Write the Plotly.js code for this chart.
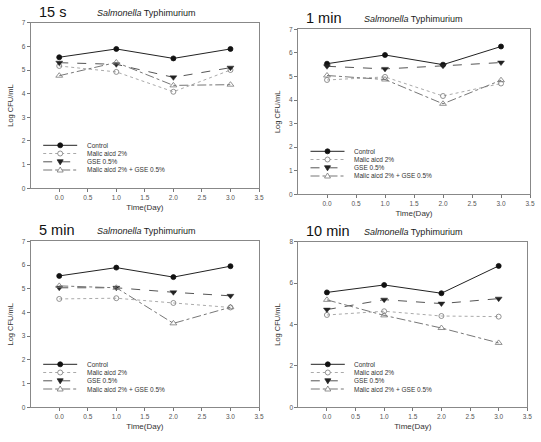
<!DOCTYPE html>
<html>
<head>
<meta charset="utf-8">
<script src="https://cdn.plot.ly/plotly-3.0.1.min.js"></script>
<style>html,body{margin:0;padding:0;background:#fff;}#chart{width:541px;height:442px;}</style>
</head>
<body>
<div id="chart"></div>
<script>
// ---- data ----
const days = [0, 1, 2, 3];
const seriesNames = ["Control", "Malic aicd 2%", "GSE 0.5%", "Malic aicd 2% + GSE 0.5%"];
const panelTitles = ["15 s", "1 min", "5 min", "10 min"];
// 15 s
const control15s = [5.54, 5.89, 5.49, 5.89];
const malic15s   = [5.17, 4.92, 4.08, 5.00];
const gse15s     = [5.31, 5.24, 4.69, 5.10];
const combo15s   = [4.76, 5.32, 4.35, 4.38];
// 1 min
const control1m = [5.54, 5.91, 5.50, 6.27];
const malic1m   = [4.85, 4.98, 4.17, 4.70];
const gse1m     = [5.43, 5.32, 5.45, 5.59];
const combo1m   = [5.04, 4.87, 3.84, 4.84];
// 5 min
const control5m = [5.54, 5.89, 5.49, 5.95];
const malic5m   = [4.57, 4.60, 4.40, 4.21];
const gse5m     = [5.04, 5.04, 4.85, 4.70];
const combo5m   = [5.12, 5.04, 3.54, 4.22];
// 10 min
const control10m = [5.55, 5.91, 5.51, 6.83];
const malic10m   = [4.46, 4.64, 4.41, 4.38];
const gse10m     = [4.72, 5.20, 5.01, 5.25];
const combo10m   = [5.19, 4.44, 3.83, 3.11];
const yMax = [7, 7, 7, 8];
const yTickStep = [1, 1, 1, 2];
const xTicks = [0, 0.5, 1, 1.5, 2, 2.5, 3, 3.5];

const panels = [
  [control15s, malic15s, gse15s, combo15s],
  [control1m, malic1m, gse1m, combo1m],
  [control5m, malic5m, gse5m, combo5m],
  [control10m, malic10m, gse10m, combo10m]
];

// ---- styles ----
const W = 541, H = 442;
const styles = [
  {line: {color: '#222', width: 1, dash: 'solid'}, marker: {symbol: 'circle', color: '#111', size: 5, line: {color: '#111', width: 0.8}}},
  {line: {color: '#aaa', width: 1, dash: 'dot'}, marker: {symbol: 'circle-open', color: '#777', size: 5, line: {color: '#777', width: 0.8}}},
  {line: {color: '#555', width: 1, dash: 'dash'}, marker: {symbol: 'triangle-down', color: '#222', size: 6, line: {color: '#222', width: 0.5}}},
  {line: {color: '#777', width: 1, dash: 'dashdot'}, marker: {symbol: 'triangle-up-open', color: '#777', size: 6, line: {color: '#777', width: 0.8}}}
];
// legend marker shapes (pixel paths relative to anchor)
const legendMarkers = [
  {type: 'circle', x0: -2.5, x1: 2.5, y0: -2.5, y1: 2.5, fill: '#111', lc: '#111'},
  {type: 'circle', x0: -2.5, x1: 2.5, y0: -2.5, y1: 2.5, fill: '#fff', lc: '#777'},
  {type: 'path', path: 'M-3,2 L3,2 L0,-3 Z', fill: '#222', lc: '#222'},
  {type: 'path', path: 'M-3,-2 L3,-2 L0,3 Z', fill: '#fff', lc: '#777'}
];
// panel pixel boxes [left, right, top, bottom]
const boxes = [
  [30.7, 259, 22.7, 188.3],
  [298, 530, 29.3, 194.3],
  [30.7, 259, 241.3, 407.3],
  [298.3, 527.3, 241.7, 407.3]
];
const legendRowOffsets = [43, 34.8, 26.5, 18.3];

const px = v => v / W;
const py = v => 1 - v / H;

const traces = [];
const layout = {
  width: W, height: H,
  margin: {l: 0, r: 0, t: 0, b: 0},
  paper_bgcolor: '#fff', plot_bgcolor: '#fff',
  font: {family: 'Liberation Sans, Arial, sans-serif', color: '#333'},
  showlegend: false,
  annotations: [],
  shapes: []
};

panels.forEach((p, i) => {
  const n = i === 0 ? '' : String(i + 1);
  const [l, r, t, b] = boxes[i];
  p.forEach((vals, s) => {
    traces.push({
      x: days, y: vals, type: 'scatter', mode: 'lines+markers',
      name: seriesNames[s],
      xaxis: 'x' + n, yaxis: 'y' + n,
      line: styles[s].line, marker: styles[s].marker
    });
    // legend row
    const ry = b - legendRowOffsets[s];
    layout.shapes.push({
      type: 'line', xref: 'paper', yref: 'paper',
      x0: px(l + 12.5), x1: px(l + 46.5), y0: py(ry), y1: py(ry),
      line: {color: styles[s].line.color, width: 1, dash: styles[s].line.dash}
    });
    const m = legendMarkers[s];
    const sh = {
      type: m.type, xref: 'paper', yref: 'paper',
      xsizemode: 'pixel', ysizemode: 'pixel',
      xanchor: px(l + 29.5), yanchor: py(ry),
      fillcolor: m.fill, line: {color: m.lc, width: 0.8}
    };
    if (m.type === 'path') sh.path = m.path; else { sh.x0 = m.x0; sh.x1 = m.x1; sh.y0 = m.y0; sh.y1 = m.y1; }
    layout.shapes.push(sh);
    layout.annotations.push({
      xref: 'paper', yref: 'paper', x: px(l + 54), y: py(ry),
      xanchor: 'left', yanchor: 'middle', showarrow: false,
      text: seriesNames[s], font: {size: 6.5, color: '#333'}
    });
  });
  const tv = [];
  for (let v = 0; v <= yMax[i]; v += yTickStep[i]) tv.push(v);
  layout['xaxis' + n] = {
    domain: [l / W, r / W], anchor: 'y' + n, range: [-0.5, 3.5],
    tickvals: xTicks, ticktext: xTicks.map(v => v.toFixed(1)),
    ticks: 'outside', ticklen: 3, tickcolor: '#777', tickwidth: 1,
    showline: true, linecolor: '#888', linewidth: 1, mirror: true,
    showgrid: false, zeroline: false,
    tickfont: {size: 6.5, color: '#555'},
    title: {text: 'Time(Day)', font: {size: 8, color: '#333'}, standoff: 4}
  };
  layout['yaxis' + n] = {
    domain: [1 - b / H, 1 - t / H], anchor: 'x' + n, range: [0, yMax[i]],
    tickvals: tv,
    ticks: 'outside', ticklen: 3, tickcolor: '#777', tickwidth: 1,
    showline: true, linecolor: '#888', linewidth: 1, mirror: true,
    showgrid: false, zeroline: false,
    tickfont: {size: 6.5, color: '#555'},
    title: {text: 'Log CFU/mL', font: {size: 7.5, color: '#333'}, standoff: 7}
  };
  layout.annotations.push({
    xref: 'paper', yref: 'paper', x: px(l + 6), y: py(t - 11),
    xanchor: 'left', yanchor: 'middle', showarrow: false,
    text: panelTitles[i], font: {size: 14.5, color: '#111'}
  });
  layout.annotations.push({
    xref: 'paper', yref: 'paper', x: px(l + 64), y: py(t - 10),
    xanchor: 'left', yanchor: 'middle', showarrow: false,
    text: '<i>Salmonella</i> Typhimurium', font: {size: 9, color: '#222'}
  });
});

Plotly.newPlot('chart', traces, layout, {displayModeBar: false, staticPlot: true});
</script>
</body>
</html>
